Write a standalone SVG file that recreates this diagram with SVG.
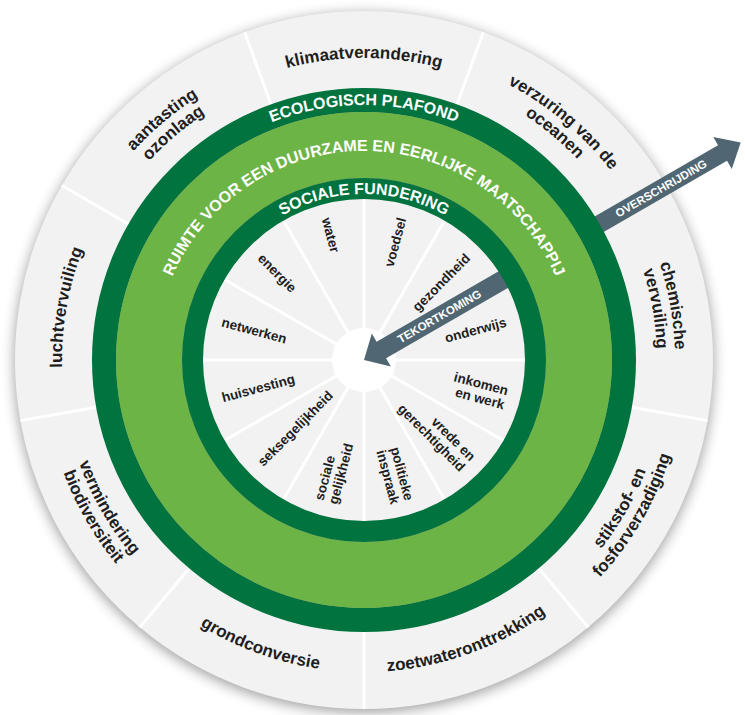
<svg xmlns="http://www.w3.org/2000/svg" width="745" height="715" viewBox="0 0 745 715">
<style>
.lbl{font-family:"Liberation Sans",Arial,sans-serif;font-weight:bold;fill:#1e1e1e;}
.out{font-size:17px;}
.in{font-size:13.5px;}
.ring{font-family:"Liberation Sans",Arial,sans-serif;font-weight:bold;font-size:16px;fill:#ffffff;}
.arw{font-family:"Liberation Sans",Arial,sans-serif;font-weight:bold;font-size:11.5px;fill:#ffffff;}
.seg{fill:#f2f2f2;}
.sep{stroke:#ffffff;stroke-width:3;}
</style>
<defs>
<filter id="blur" x="-20%" y="-20%" width="140%" height="140%"><feGaussianBlur stdDeviation="7"/></filter>
<path id="osec" d="M 244.63 32.05 A 349 349 0 0 1 483.37 32.05 L 451.22 120.38 A 255 255 0 0 0 276.78 120.38 Z"/>
<path id="isec" d="M 321.30 200.62 A 165 165 0 0 1 406.70 200.62 L 370.47 335.85 A 25 25 0 0 0 357.53 335.85 Z"/>
<line id="osep" x1="364" y1="11" x2="364" y2="100"/>
<line id="isep" x1="364" y1="198" x2="364" y2="330"/>
<path id="t302" d="M 62 360 A 302 302 0 0 1 666 360"/>
<path id="t311" d="M 53 360 A 311 311 0 0 1 675 360"/>
<path id="t293" d="M 71 360 A 293 293 0 0 1 657 360"/>
<path id="b312" d="M 52 360 A 312 312 0 0 0 676 360"/>
<path id="b303" d="M 61 360 A 303 303 0 0 0 667 360"/>
<path id="b321" d="M 43 360 A 321 321 0 0 0 685 360"/>
<path id="r255" d="M 109 360 A 255 255 0 0 1 619 360"/>
<path id="r209" d="M 155 360 A 209 209 0 0 1 573 360"/>
<path id="r166" d="M 198 360 A 166 166 0 0 1 530 360"/>
</defs>

<circle id="shadow" cx="364" cy="363" r="349" fill="#000000" opacity="0.4" filter="url(#blur)"/>

<!-- ecological ceiling dimensions -->
<g id="klimaatverandering">
<use href="#osec" class="seg"/>
<text class="lbl out" text-anchor="middle"><textPath href="#t302" startOffset="50%">klimaatverandering</textPath></text>
</g>
<g id="verzuring-van-de-oceanen" transform="rotate(40 364 360)">
<use href="#osec" class="seg"/>
<text class="lbl out" text-anchor="middle"><textPath href="#t311" startOffset="50%">verzuring van de</textPath></text>
<text class="lbl out" text-anchor="middle"><textPath href="#t293" startOffset="50%">oceanen</textPath></text>
</g>
<g id="chemische-vervuiling" transform="rotate(80 364 360)">
<use href="#osec" class="seg"/>
<text class="lbl out" text-anchor="middle"><textPath href="#t311" startOffset="50%">chemische</textPath></text>
<text class="lbl out" text-anchor="middle"><textPath href="#t293" startOffset="50%">vervuiling</textPath></text>
</g>
<g id="stikstof-fosforverzadiging">
<use href="#osec" class="seg" transform="rotate(120 364 360)"/>
<g transform="rotate(-60 364 360)">
<text class="lbl out" text-anchor="middle"><textPath href="#b303" startOffset="50%">stikstof- en</textPath></text>
<text class="lbl out" text-anchor="middle"><textPath href="#b321" startOffset="50%">fosforverzadiging</textPath></text>
</g>
</g>
<g id="zoetwateronttrekking">
<use href="#osec" class="seg" transform="rotate(160 364 360)"/>
<text class="lbl out" text-anchor="middle" transform="rotate(-20 364 360)"><textPath href="#b312" startOffset="50%">zoetwateronttrekking</textPath></text>
</g>
<g id="grondconversie">
<use href="#osec" class="seg" transform="rotate(200 364 360)"/>
<text class="lbl out" text-anchor="middle" transform="rotate(20 364 360)"><textPath href="#b312" startOffset="50%">grondconversie</textPath></text>
</g>
<g id="vermindering-biodiversiteit">
<use href="#osec" class="seg" transform="rotate(240 364 360)"/>
<g transform="rotate(60 364 360)">
<text class="lbl out" text-anchor="middle"><textPath href="#b303" startOffset="50%">vermindering</textPath></text>
<text class="lbl out" text-anchor="middle"><textPath href="#b321" startOffset="50%">biodiversiteit</textPath></text>
</g>
</g>
<g id="luchtvervuiling" transform="rotate(-80 364 360)">
<use href="#osec" class="seg"/>
<text class="lbl out" text-anchor="middle"><textPath href="#t302" startOffset="50%">luchtvervuiling</textPath></text>
</g>
<g id="aantasting-ozonlaag" transform="rotate(-40 364 360)">
<use href="#osec" class="seg"/>
<text class="lbl out" text-anchor="middle"><textPath href="#t311" startOffset="50%">aantasting</textPath></text>
<text class="lbl out" text-anchor="middle"><textPath href="#t293" startOffset="50%">ozonlaag</textPath></text>
</g>

<!-- social foundation dimensions -->
<g id="voedsel">
<use href="#isec" class="seg" transform="rotate(15 364 360)"/>
<text class="lbl in" text-anchor="end" transform="translate(402 218) rotate(-75)" y="4.5">voedsel</text>
</g>
<g id="gezondheid">
<use href="#isec" class="seg" transform="rotate(45 364 360)"/>
<text class="lbl in" text-anchor="end" transform="translate(467.9 256.1) rotate(-45)" y="4.5">gezondheid</text>
</g>
<g id="onderwijs">
<use href="#isec" class="seg" transform="rotate(75 364 360)"/>
<text class="lbl in" text-anchor="end" transform="translate(506 322) rotate(-15)" y="4.5">onderwijs</text>
</g>
<g id="inkomen-en-werk">
<use href="#isec" class="seg" transform="rotate(105 364 360)"/>
<text class="lbl in" text-anchor="end" transform="translate(506 398) rotate(15)"><tspan x="0" y="-2.75">inkomen</tspan><tspan x="0" y="11.75">en werk</tspan></text>
</g>
<g id="vrede-en-gerechtigheid">
<use href="#isec" class="seg" transform="rotate(135 364 360)"/>
<text class="lbl in" text-anchor="end" transform="translate(467.9 463.9) rotate(45)"><tspan x="0" y="-2.75">vrede en</tspan><tspan x="0" y="11.75">gerechtigheid</tspan></text>
</g>
<g id="politieke-inspraak">
<use href="#isec" class="seg" transform="rotate(165 364 360)"/>
<text class="lbl in" text-anchor="end" transform="translate(402 502) rotate(75)"><tspan x="0" y="-2.75">politieke</tspan><tspan x="0" y="11.75">inspraak</tspan></text>
</g>
<g id="sociale-gelijkheid">
<use href="#isec" class="seg" transform="rotate(195 364 360)"/>
<text class="lbl in" text-anchor="start" transform="translate(326 502) rotate(-75)"><tspan x="0" y="-2.75">sociale</tspan><tspan x="0" y="11.75">gelijkheid</tspan></text>
</g>
<g id="seksegelijkheid">
<use href="#isec" class="seg" transform="rotate(225 364 360)"/>
<text class="lbl in" text-anchor="start" transform="translate(260.1 463.9) rotate(-45)" y="4.5">seksegelijkheid</text>
</g>
<g id="huisvesting">
<use href="#isec" class="seg" transform="rotate(255 364 360)"/>
<text class="lbl in" text-anchor="start" transform="translate(222 398) rotate(-15)" y="4.5">huisvesting</text>
</g>
<g id="netwerken">
<use href="#isec" class="seg" transform="rotate(285 364 360)"/>
<text class="lbl in" text-anchor="start" transform="translate(222 322) rotate(15)" y="4.5">netwerken</text>
</g>
<g id="energie">
<use href="#isec" class="seg" transform="rotate(315 364 360)"/>
<text class="lbl in" text-anchor="start" transform="translate(260.1 256.1) rotate(45)" y="4.5">energie</text>
</g>
<g id="water">
<use href="#isec" class="seg" transform="rotate(345 364 360)"/>
<text class="lbl in" text-anchor="start" transform="translate(326 218) rotate(75)" y="4.5">water</text>
</g>

<!-- separators -->
<g id="separators" class="sep">
<use href="#osep" transform="rotate(20 364 360)"/>
<use href="#osep" transform="rotate(60 364 360)"/>
<use href="#osep" transform="rotate(100 364 360)"/>
<use href="#osep" transform="rotate(140 364 360)"/>
<use href="#osep" transform="rotate(180 364 360)"/>
<use href="#osep" transform="rotate(220 364 360)"/>
<use href="#osep" transform="rotate(260 364 360)"/>
<use href="#osep" transform="rotate(300 364 360)"/>
<use href="#osep" transform="rotate(340 364 360)"/>
<use href="#isep"/>
<use href="#isep" transform="rotate(30 364 360)"/>
<use href="#isep" transform="rotate(60 364 360)"/>
<use href="#isep" transform="rotate(90 364 360)"/>
<use href="#isep" transform="rotate(120 364 360)"/>
<use href="#isep" transform="rotate(150 364 360)"/>
<use href="#isep" transform="rotate(180 364 360)"/>
<use href="#isep" transform="rotate(210 364 360)"/>
<use href="#isep" transform="rotate(240 364 360)"/>
<use href="#isep" transform="rotate(270 364 360)"/>
<use href="#isep" transform="rotate(300 364 360)"/>
<use href="#isep" transform="rotate(330 364 360)"/>
</g>

<circle id="centre" cx="364" cy="360" r="32" fill="#ffffff"/>

<!-- arrows -->
<g id="arrows" fill="#506773">
<g transform="translate(364 360) rotate(-30)">
<polygon points="255,-9 414,-9 414,-18.5 435,0 414,18.5 414,9 255,9"/>
<text class="arw" x="343" y="4" text-anchor="middle">OVERSCHRIJDING</text>
<polygon points="0,0 20,-19 20,-9.5 170,-9.5 170,9.5 20,9.5 20,19"/>
<text class="arw" x="87" y="4" text-anchor="middle">TEKORTKOMING</text>
</g>
</g>

<!-- rings -->
<g id="rings" fill="none">
<circle cx="364" cy="360" r="260" stroke="#00733e" stroke-width="24"/>
<circle cx="364" cy="360" r="215" stroke="#6cb446" stroke-width="66"/>
<circle cx="364" cy="360" r="171.5" stroke="#00733e" stroke-width="21"/>
</g>
<g id="ring-labels">
<text class="ring" text-anchor="middle"><textPath href="#r255" startOffset="50%">ECOLOGISCH PLAFOND</textPath></text>
<text class="ring" text-anchor="middle"><textPath href="#r209" startOffset="50%">RUIMTE VOOR EEN DUURZAME EN EERLIJKE MAATSCHAPPIJ</textPath></text>
<text class="ring" text-anchor="middle"><textPath href="#r166" startOffset="50%">SOCIALE FUNDERING</textPath></text>
</g>
</svg>
